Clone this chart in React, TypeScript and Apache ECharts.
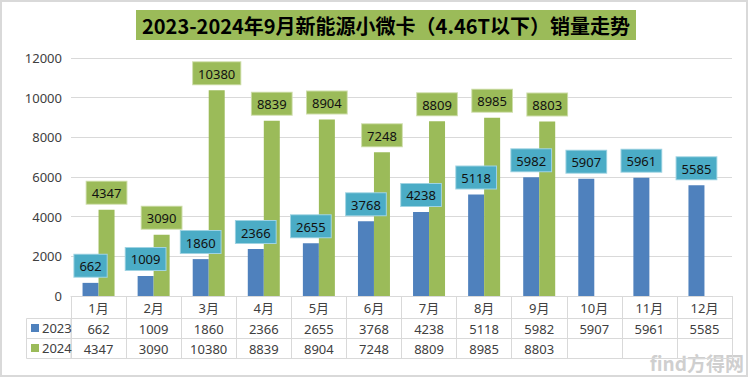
import React, { useEffect, useRef } from "react";
import * as echarts from "echarts";

const months = ["1月", "2月", "3月", "4月", "5月", "6月", "7月", "8月", "9月", "10月", "11月", "12月"];
const sales2023 = [662, 1009, 1860, 2366, 2655, 3768, 4238, 5118, 5982, 5907, 5961, 5585];
const sales2024: (number | null)[] = [4347, 3090, 10380, 8839, 8904, 7248, 8809, 8985, 8803, null, null, null];
const yTicks = { min: 0, max: 12000, interval: 2000 };
const titleText = "2023-2024年9月新能源小微卡（4.46T以下）销量走势";

const BLUE = "#4f81bd";
const GREEN = "#9bbb59";
const GRID_COLOR = "#d9d9d9";
const TEXT = "#404040";
const FONT = "'Noto Sans', 'Noto Sans CJK SC', sans-serif";

export default function App() {
  const ref = useRef<HTMLDivElement>(null);
  useEffect(() => {
    document.body.style.margin = "0";
    const chart = echarts.init(ref.current!, undefined, { renderer: "svg" });
    const gridLeft = 71;
    const gridRight = 18;
    const gridTop = 58;
    const gridBottom = 82;
    const axisY = 378 - gridBottom;

    const tableAxis = (data: string[], offset: number) => ({
      type: "category",
      data,
      position: "bottom",
      offset,
      axisLine: { show: true, lineStyle: { color: GRID_COLOR } },
      axisTick: { show: false },
      splitLine: { show: false },
      axisLabel: { show: true, interval: 0, margin: 4, fontSize: 13, color: TEXT, fontFamily: FONT, lineHeight: 14 },
    });

    const labelBase = {
      show: true,
      position: "top",
      distance: 6,
      fontSize: 13,
      lineHeight: 15,
      color: "#111",
      fontFamily: FONT,
      padding: [4, 5, 3, 5],
      borderWidth: 1,
    };

    chart.setOption({
      animation: false,
      backgroundColor: "#fff",
      title: {
        text: titleText,
        left: 136,
        top: 10,
        backgroundColor: GREEN,
        padding: [5, 6],
        textStyle: {
          fontSize: 20,
          fontWeight: "bold",
          color: "#000",
          fontFamily: "'Noto Sans CJK SC', sans-serif",
          lineHeight: 20,
        },
      },
      legend: {
        data: ["2023", "2024"],
        orient: "vertical",
        left: 31,
        top: axisY + 22,
        itemWidth: 8,
        itemHeight: 8,
        itemGap: 0,
        padding: 0,
        icon: "rect",
        textStyle: { fontSize: 13, color: TEXT, fontFamily: FONT, lineHeight: 20, padding: [0, 0, 0, -2] },
      },
      grid: { left: gridLeft, right: gridRight, top: gridTop, bottom: gridBottom, containLabel: false },
      xAxis: [
        {
          type: "category",
          data: months,
          position: "bottom",
          axisLine: { show: true, lineStyle: { color: GRID_COLOR } },
          axisTick: { show: true, length: 62, interval: 0, lineStyle: { color: GRID_COLOR } },
          axisLabel: { interval: 0, margin: 5, fontSize: 13, color: TEXT, fontFamily: FONT, lineHeight: 14 },
        },
        tableAxis(sales2023.map(String), 22),
        tableAxis(sales2024.map((v) => (v == null ? "" : String(v))), 42),
        { ...tableAxis(months.map(() => ""), 62), axisLabel: { show: false } },
      ],
      yAxis: {
        type: "value",
        min: yTicks.min,
        max: yTicks.max,
        interval: yTicks.interval,
        axisLine: { show: false },
        axisTick: { show: false },
        splitLine: { lineStyle: { color: GRID_COLOR } },
        axisLabel: {
          fontSize: 13,
          color: TEXT,
          fontFamily: FONT,
          margin: 9,
          formatter: (v: number) => String(v),
        },
      },
      series: [
        {
          name: "2023",
          type: "bar",
          xAxisIndex: 0,
          data: sales2023,
          barWidth: 16,
          barGap: "0%",
          itemStyle: { color: BLUE },
          label: { ...labelBase, backgroundColor: "#4bacc6", borderColor: "#9fd3e2" },
        },
        {
          name: "2024",
          type: "bar",
          xAxisIndex: 0,
          data: sales2024,
          barWidth: 16,
          barGap: "0%",
          itemStyle: { color: GREEN },
          label: { ...labelBase, backgroundColor: GREEN, borderColor: "#cddda9" },
        },
      ],
      graphic: [
        {
          type: "rect",
          shape: { x: 1, y: 1, width: 746, height: 375 },
          style: { fill: "none", stroke: GRID_COLOR, lineWidth: 2 },
          silent: true,
        },
        {
          type: "rect",
          shape: { x: 26.5, y: axisY + 22.5, width: gridLeft - 26.5, height: 40 },
          style: { fill: "none", stroke: GRID_COLOR, lineWidth: 1 },
          silent: true,
        },
        {
          type: "line",
          shape: { x1: 26.5, y1: axisY + 42.5, x2: gridLeft, y2: axisY + 42.5 },
          style: { stroke: GRID_COLOR, lineWidth: 1 },
          silent: true,
        },
        {
          type: "text",
          right: 6,
          bottom: 6,
          style: {
            text: "find方得网",
            fill: "#cfcfcf",
            font: "bold 19px 'Noto Sans CJK SC', sans-serif",
          },
          silent: true,
        },
      ],
    });
    return () => chart.dispose();
  }, []);
  return <div ref={ref} style={{ width: 750, height: 378, position: "absolute", left: 0, top: 0 }} />;
}
